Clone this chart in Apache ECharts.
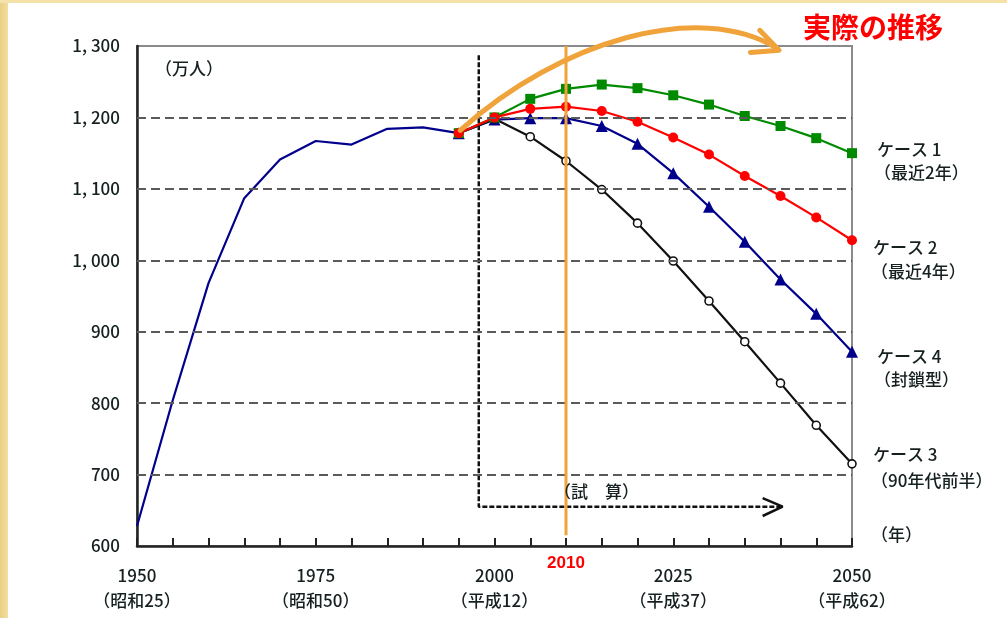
<!DOCTYPE html>
<html>
<head>
<meta charset="utf-8">
<script src="https://cdn.jsdelivr.net/npm/echarts@6/dist/echarts.min.js"></script>
<style>
html,body{margin:0;padding:0;background:#fff;}
#wrap{position:relative;width:1007px;height:618px;overflow:hidden;background:#fff;}
#stripL{position:absolute;left:0;top:0;width:8px;height:618px;background:linear-gradient(90deg,#e9cf84,#f3dea0);}
#stripT{position:absolute;left:0;top:0;width:1007px;height:3px;background:#f4e2a8;}
#chart{position:absolute;left:0;top:0;width:1007px;height:618px;}
</style>
</head>
<body>
<div id="wrap"><div id="stripL"></div><div id="stripT"></div><div id="chart"></div></div>
<script>
// ---- data ----
const histYears = [1950,1955,1960,1965,1970,1975,1980,1985,1990,1995];
const histValues = [628,804,968,1087,1141,1167,1162,1184,1186,1178];
const projYears = [1995,2000,2005,2010,2015,2020,2025,2030,2035,2040,2045,2050];
const case1 = [1178,1200,1226,1240,1246,1241,1231,1218,1202,1188,1171,1150];
const case2 = [1178,1200,1212,1215,1209,1194,1172,1148,1118,1090,1060,1028];
const case4 = [1178,1197,1199,1199,1188,1163,1122,1075,1026,973,925,872];
const case3 = [1178,1198,1173,1139,1099,1052,999,943,886,828,769,715];
const gridValues = [700,800,900,1000,1100,1200];
const labelYears = [1950,1975,2000,2025,2050];
const eraLabels = ['（昭和25）','（昭和50）','（平成12）','（平成37）','（平成62）'];
// annotations (data coordinates)
const trialFrame = [[1997.8,1287],[1997.8,655],[2040.3,655]];
const trialChevron = [[2037.5,667],[2040.3,655],[2037.5,642]];
const markYear = 2010;
const markRange = [1300,615];
const arrowCurve = [[1995.2,1182],[2009.2,1308],[2028.7,1364],[2039.5,1297]];
const arrowHead = [[2037.1,1322],[2039.8,1294],[2035.8,1291]];

const zip = (xs, ys) => xs.map((x,i)=>[x,ys[i]]);
const FONT = '"Noto Sans CJK JP","Noto Sans",sans-serif';
const TXT = '#162020';
const ORANGE = '#f0a33a';

const chart = echarts.init(document.getElementById('chart'), null, {renderer:'canvas'});
const option = {
  animation:false,
  backgroundColor:'transparent',
  grid:{left:137,right:155,top:46,bottom:72,show:true,borderColor:'#8a8a8a',borderWidth:2,backgroundColor:'transparent'},
  xAxis:{type:'value',min:1950,max:2050,interval:5,
    axisLine:{lineStyle:{color:'#222',width:2.5}},
    axisTick:{inside:true,length:8,lineStyle:{color:'#222',width:2}},
    splitLine:{show:false},
    axisLabel:{margin:17,fontSize:17,lineHeight:25,color:TXT,fontFamily:FONT,fontWeight:500,
      formatter:v=>{const i=labelYears.indexOf(v);return i<0?'':v+'\n'+eraLabels[i];}}
  },
  yAxis:{type:'value',min:600,max:1300,interval:100,
    axisLine:{show:true,lineStyle:{color:'#222',width:2.5}},
    axisTick:{show:false},
    splitLine:{show:false},
    axisLabel:{margin:17,fontSize:17,color:TXT,fontFamily:FONT,fontWeight:500,
      formatter:v=>v>=1000?Math.floor(v/1000)+', '+String(v%1000).padStart(3,'0'):String(v)}
  },
  series:[
    {type:'line',data:[],silent:true,symbol:'none',
      markLine:{silent:true,symbol:'none',label:{show:false},
        lineStyle:{color:'#5a5a5a',width:2,type:[9,5]},
        data:gridValues.map(v=>({yAxis:v}))}},
    {type:'line',data:trialFrame,symbol:'none',lineStyle:{color:'#111',width:2.5,type:[5,2]},z:3},
    {type:'line',data:trialChevron,symbol:'none',lineStyle:{color:'#111',width:2.5},z:3},
    {type:'line',data:zip(histYears,histValues),symbol:'none',lineStyle:{color:'#00008c',width:2.2},z:4},
    {type:'line',data:zip(projYears,case4),symbol:'triangle',symbolSize:12,
      itemStyle:{color:'#00008c'},lineStyle:{color:'#00008c',width:2.2},z:4},
    {type:'line',data:zip(projYears,case3),symbol:'circle',symbolSize:8,
      itemStyle:{color:'#fff',borderColor:'#111',borderWidth:1.6},lineStyle:{color:'#111',width:2.2},z:4},
    {type:'line',data:zip(projYears,case1),symbol:'rect',symbolSize:10,
      itemStyle:{color:'#008a00'},lineStyle:{color:'#008a00',width:2.2},z:4},
    {type:'line',data:zip(projYears,case2),symbol:'circle',symbolSize:10,
      itemStyle:{color:'#ff0000'},lineStyle:{color:'#ff0000',width:2.2},z:4},
    {type:'line',data:markRange.map(v=>[markYear,v]),symbol:'none',lineStyle:{color:ORANGE,width:3},z:6}
  ]
};
chart.setOption(option);

const px = p => chart.convertToPixel({gridIndex:0}, p);
const c = arrowCurve.map(px);
const h = arrowHead.map(px);
const t2010 = px([markYear,600]);
function txt(text,x,y,opts){
  return Object.assign({type:'text',z:10,style:Object.assign({text:text,x:x,y:y,fill:TXT,
    font:'500 17px '+FONT,textAlign:'left',textVerticalAlign:'middle',align:'left',verticalAlign:'middle'},opts||{})});
}
chart.setOption({graphic:[
  {type:'bezierCurve',z:8,shape:{x1:c[0][0],y1:c[0][1],cpx1:c[1][0],cpy1:c[1][1],cpx2:c[2][0],cpy2:c[2][1],x2:c[3][0],y2:c[3][1]},
    style:{stroke:ORANGE,lineWidth:5,fill:null,lineCap:'round'}},
  {type:'polyline',z:8,shape:{points:h},style:{stroke:ORANGE,lineWidth:5,fill:null,lineCap:'round',lineJoin:'round'}},
  txt('実際の推移',803,27,{fill:'#ff0000',font:'bold 28px '+FONT}),
  txt('2010',t2010[0],t2010[1]+17,{fill:'#ff0000',font:'bold 17px "Liberation Sans",Arial,sans-serif',textAlign:'center',align:'center'}),
  txt('（万人）',155,69),
  txt('（試　算）',554,492),
  txt('ケース 1',877,150),
  txt('（最近2年）',874,173),
  txt('ケース 2',873,248),
  txt('（最近4年）',871,272),
  txt('ケース 4',877,357),
  txt('（封鎖型）',874,380),
  txt('ケース 3',873,455),
  txt('（90年代前半）',871,481),
  txt('（年）',871,535)
]});
</script>
</body>
</html>
